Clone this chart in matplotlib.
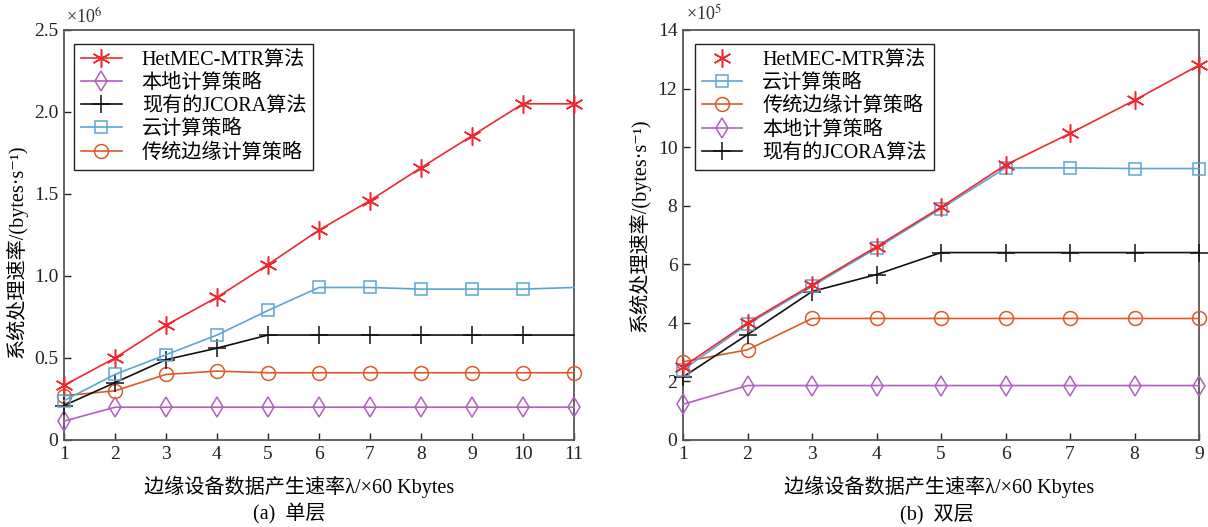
import matplotlib
matplotlib.use("Agg")
import matplotlib.pyplot as plt
from matplotlib.lines import Line2D

plt.rcParams['font.family'] = ['Liberation Serif', 'Noto Sans CJK SC', 'DejaVu Sans']
plt.rcParams['mathtext.fontset'] = 'stix'

# ---- data (a) single layer, units x10^6 ----
x_a = [1, 2, 3, 4, 5, 6, 7, 8, 9, 10, 11]
hetmec_a = [0.333, 0.50, 0.70, 0.87, 1.07, 1.28, 1.46, 1.66, 1.855, 2.05, 2.05]
local_a = [0.115, 0.20, 0.20, 0.20, 0.20, 0.20, 0.20, 0.20, 0.20, 0.20, 0.20]
jcora_a = [0.21, 0.35, 0.49, 0.56, 0.64, 0.64, 0.64, 0.64, 0.64, 0.64, 0.64]
cloud_a = [0.24, 0.40, 0.52, 0.64, 0.79, 0.93, 0.93, 0.92, 0.92, 0.92, 0.93]
edge_a = [0.27, 0.30, 0.40, 0.42, 0.41, 0.41, 0.41, 0.41, 0.41, 0.41, 0.41]

# ---- data (b) double layer, units x10^5 ----
x_b = [1, 2, 3, 4, 5, 6, 7, 8, 9]
hetmec_b = [2.5, 4.0, 5.3, 6.6, 7.95, 9.39, 10.47, 11.6, 12.8]
cloud_b = [2.4, 3.95, 5.25, 6.55, 7.9, 9.29, 9.29, 9.27, 9.27]
edge_b = [2.67, 3.08, 4.15, 4.15, 4.15, 4.15, 4.15, 4.15, 4.15]
local_b = [1.22, 1.86, 1.86, 1.86, 1.86, 1.86, 1.86, 1.86, 1.86]
jcora_b = [2.15, 3.6, 5.07, 5.65, 6.4, 6.4, 6.4, 6.4, 6.4]

names = {
    'hetmec': 'HetMEC-MTR算法',
    'local': '本地计算策略',
    'jcora': '现有的JCORA算法',
    'cloud': '云计算策略',
    'edge': '传统边缘计算策略',
}

RED = '#F0282D'
PURPLE = '#B060C0'
BLACK = '#111111'
BLUE = '#5AA5D5'
ORANGE = '#DC5A2A'
STAR = (6, 2, 0)

styles = {
    'hetmec': dict(color=RED, marker=STAR, ms=13, mew=1.1),
    'local': dict(color=PURPLE, marker='d', ms=10, mfc='none', mew=1.1),
    'jcora': dict(color=BLACK, marker='+', ms=13, mew=1.1),
    'cloud': dict(color=BLUE, marker='s', ms=9, mfc='none', mew=1.1),
    'edge': dict(color=ORANGE, marker='o', ms=10, mfc='none', mew=1.1),
}

fig = plt.figure(figsize=(12.08, 5.27), dpi=100)
ax1 = fig.add_axes([64/1208, 87/527, 510/1208, 410/527])
ax2 = fig.add_axes([683/1208, 87/527, 516/1208, 410/527])

FS = 14
FSL = 14.5
fam = ['Liberation Serif', 'Noto Sans CJK SC', 'DejaVu Sans']

def style_axes(ax):
    for s in ax.spines.values():
        s.set_color('#555555')
        s.set_linewidth(1.3)
    ax.tick_params(direction='in', length=5, width=1, top=False, right=False,
                   labelsize=FS, colors='#222222', pad=4)
    for lab in ax.get_xticklabels() + ax.get_yticklabels():
        lab.set_family(fam)

# panel (a)
series_a = [('hetmec', hetmec_a), ('local', local_a), ('jcora', jcora_a),
            ('cloud', cloud_a), ('edge', edge_a)]
da = dict(series_a)
for key in ['local', 'edge', 'jcora', 'cloud', 'hetmec']:
    st = styles[key]
    me = None
    if key in ('cloud', 'jcora'):
        me = list(range(len(x_a) - 1))
    ax1.plot(x_a, da[key], lw=1.2, clip_on=False, markevery=me, zorder=3, **st)
ax1.set_xlim(1, 11)
ax1.set_ylim(0, 2.5)
ax1.set_xticks(x_a)
ax1.set_yticks([0, 0.5, 1.0, 1.5, 2.0, 2.5])
ax1.set_yticklabels(['0', '0.5', '1.0', '1.5', '2.0', '2.5'])
style_axes(ax1)
handles_a = [Line2D([], [], lw=1.2, **styles[k]) for k, _ in series_a]
leg1 = ax1.legend(handles_a, [names[k] for k, _ in series_a], loc='upper left',
                  bbox_to_anchor=(0.02, 0.967), borderaxespad=0, fancybox=False,
                  edgecolor='#222222', framealpha=1, handlelength=2.0,
                  handletextpad=1.0, labelspacing=0.2, borderpad=0.35,
                  prop=dict(family=fam, size=FSL))
leg1.get_frame().set_linewidth(1.0)

# panel (b)
series_b = [('hetmec', hetmec_b), ('cloud', cloud_b), ('edge', edge_b),
            ('local', local_b), ('jcora', jcora_b)]
db = dict(series_b)
for key in ['local', 'edge', 'jcora', 'cloud', 'hetmec']:
    st = styles[key]
    ax2.plot(x_b, db[key], lw=1.2, clip_on=False, zorder=3, **st)
ax2.set_xlim(1, 9)
ax2.set_ylim(0, 14)
ax2.set_xticks(x_b)
ax2.set_yticks(range(0, 15, 2))
style_axes(ax2)
handles_b = []
for k, _ in series_b:
    if k == 'hetmec':
        handles_b.append(Line2D([], [], ls='None', **styles[k]))
    else:
        handles_b.append(Line2D([], [], lw=1.2, **styles[k]))
leg2 = ax2.legend(handles_b, [names[k] for k, _ in series_b], loc='upper left',
                  bbox_to_anchor=(0.023, 0.967), borderaxespad=0, fancybox=False,
                  edgecolor='#222222', framealpha=1, handlelength=2.0,
                  handletextpad=1.0, labelspacing=0.2, borderpad=0.35,
                  prop=dict(family=fam, size=FSL))
leg2.get_frame().set_linewidth(1.0)

xlabel = '边缘设备数据产生速率λ/×60 Kbytes'
ylabel = '系统处理速率/(bytes·s⁻¹)'
for ax in (ax1, ax2):
    ax.set_xlabel(xlabel, fontsize=FSL, family=fam)
    ax.set_ylabel(ylabel, fontsize=FSL, family=fam)

ax1.xaxis.set_label_coords(0.461, -0.088)
ax2.xaxis.set_label_coords(0.496, -0.088)
ax1.yaxis.set_label_coords(-0.072, 0.461)
ax2.yaxis.set_label_coords(-0.063, 0.525)

fig.text(66/1208, 1 - 18/527, '×10$^{6}$', fontsize=13, va='center', ha='left', color='#333333')
fig.text(686/1208, 1 - 14/527, '×10$^{5}$', fontsize=13, va='center', ha='left', color='#333333')

fig.text(289/1208, 1 - 514/527, '(a)  单层', fontsize=FSL, family=fam, ha='center', va='center')
fig.text(937/1208, 1 - 514/527, '(b)  双层', fontsize=FSL, family=fam, ha='center', va='center')

fig.savefig('out.png', dpi=100)
